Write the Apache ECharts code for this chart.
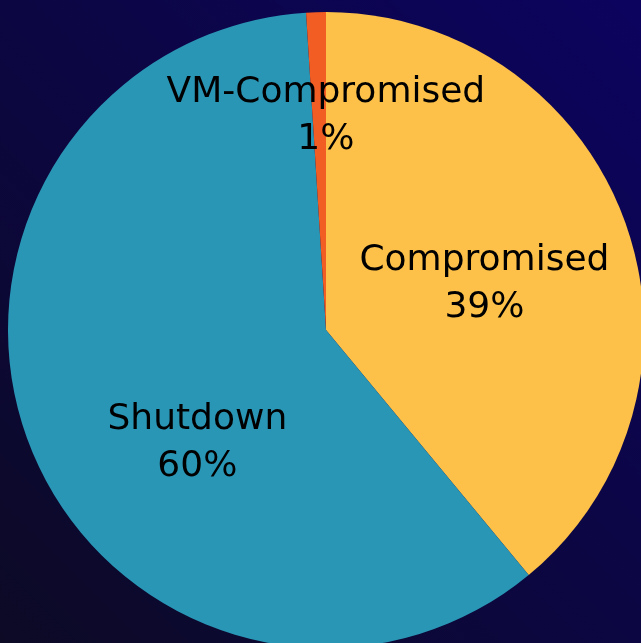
<!DOCTYPE html>
<html>
<head>
<meta charset="utf-8">
<script src="https://cdn.jsdelivr.net/npm/echarts@6/dist/echarts.min.js"></script>
<style>
  html, body { margin: 0; padding: 0; }
  #chart { width: 641px; height: 643px; }
</style>
</head>
<body>
<div id="chart"></div>
<script>
// Status breakdown, clockwise from 12 o'clock
const categories = ['Compromised', 'Shutdown', 'VM-Compromised'];
const values = [39, 60, 1];
const sliceColors = ['#FDC149', '#2A96B6', '#F15D22'];

// Nudges applied to each label from its default inside position
const labelNudges = [[6, 9], [22, 54], [5, -52]];

const chart = echarts.init(document.getElementById('chart'));

chart.setOption({
  backgroundColor: {
    type: 'linear', x: 1, y: 0, x2: 0, y2: 1,
    colorStops: [
      { offset: 0, color: '#0c035f' },
      { offset: 1, color: '#0c0a25' }
    ]
  },
  animation: false,
  series: [{
    type: 'pie',
    center: [326, 330],
    radius: 318,
    startAngle: 90,
    clockwise: true,
    avoidLabelOverlap: false,
    itemStyle: { borderWidth: 0 },
    label: {
      show: true,
      position: 'inside',
      formatter: '{b}\n{d}%',
      color: '#000',
      fontFamily: 'DejaVu Sans',
      fontWeight: 'normal',
      fontSize: 36,
      lineHeight: 47,
      align: 'center',
      verticalAlign: 'middle'
    },
    labelLine: { show: false },
    emphasis: { disabled: true },
    data: categories.map((name, i) => ({
      name,
      value: values[i],
      itemStyle: { color: sliceColors[i] },
      label: { offset: labelNudges[i] }
    }))
  }]
});
</script>
</body>
</html>
